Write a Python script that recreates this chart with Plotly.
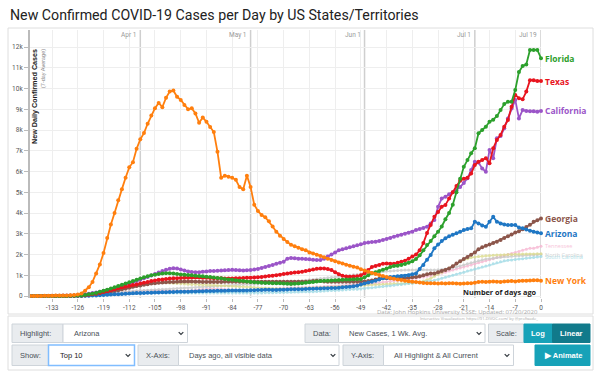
import plotly.graph_objects as go

# ---------------- data (7-day avg new cases, day -139 .. 0) ----------------
days = list(range(-139, 1))

new_york = [0, 0, 0, 5, 10, 10, 15, 20, 25, 30,
            30, 40, 50, 70, 120, 250, 420, 680, 1080, 1520,
            2070, 2800, 3450, 4000, 4620, 5150, 5700, 6200, 6450, 7100,
            7550, 7850, 8300, 8700, 9050, 9300, 9100, 9550, 9850, 9900,
            9600, 9450, 9200, 9000, 9050, 8800, 8350, 8600, 8400, 8150,
            7900, 6950, 5700, 5800, 5750, 5700, 5600, 5250, 5150, 5800,
            5250, 4400, 4100, 3900, 3800, 3600, 3350, 3100, 2900, 2750,
            2600, 2470, 2400, 2330, 2250, 2200, 2100, 2050, 1990, 1930,
            1870, 1800, 1730, 1680, 1620, 1570, 1510, 1460, 1410, 1370,
            1290, 1230, 1170, 1110, 1060, 1010, 960, 910, 870, 830,
            800, 770, 740, 710, 690, 670, 650, 630, 620, 610,
            610, 600, 610, 600, 620, 610, 600, 590, 600, 610,
            620, 640, 680, 690, 670, 690, 700, 690, 680, 700,
            710, 720, 700, 720, 730, 740, 750, 760, 760, 740]

florida = [0, 0, 0, 0, 0, 0, 0, 0, 0, 0,
           5, 10, 15, 20, 30, 50, 80, 110, 150, 200,
           250, 300, 360, 420, 480, 540, 600, 660, 720, 780,
           840, 900, 950, 1000, 1030, 1060, 1080, 1100, 1100, 1080,
           1060, 1040, 1030, 1010, 1000, 980, 960, 950, 930, 910,
           890, 870, 850, 820, 800, 780, 760, 740, 720, 700,
           680, 660, 650, 640, 630, 630, 620, 620, 610, 600,
           590, 580, 590, 600, 620, 640, 660, 680, 700, 720,
           730, 740, 750, 760, 770, 780, 790, 800, 810, 820,
           820, 900, 1000, 1100, 1150, 1200, 1260, 1320, 1400, 1440,
           1460, 1490, 1540, 1600, 1680, 1780, 1960, 2200, 2460, 2650,
           2880, 3100, 3350, 3700, 4000, 4400, 5000, 5650, 6230, 6550,
           6880, 7120, 7840, 8000, 8160, 8400, 8500, 8670, 8960, 9250,
           9360, 9360, 9930, 10800, 11080, 11160, 11860, 11860, 11860, 11460]

texas = [0, 0, 0, 0, 0, 0, 0, 0, 0, 0,
         5, 10, 15, 20, 30, 40, 60, 80, 110, 150,
         190, 230, 280, 330, 380, 420, 460, 500, 530, 560,
         600, 640, 680, 720, 750, 780, 800, 820, 840, 850,
         860, 870, 880, 880, 890, 890, 890, 880, 880, 870,
         860, 850, 850, 840, 840, 840, 850, 860, 870, 880,
         880, 890, 900, 920, 940, 960, 980, 1000, 1030, 1060,
         1090, 1110, 1130, 1150, 1170, 1200, 1240, 1280, 1310, 1330,
         1330, 1300, 1250, 1150, 1050, 980, 940, 930, 940, 950,
         1000, 1100, 1250, 1400, 1450, 1500, 1560, 1570, 1550, 1560,
         1600, 1650, 1700, 1800, 1900, 2000, 2200, 2550, 3040, 3420,
         3820, 4050, 4300, 4390, 4700, 5000, 5300, 5550, 5650, 5700,
         5900, 6310, 6470, 6550, 6640, 6400, 7120, 7520, 7760, 8160,
         8480, 9120, 9690, 9530, 9480, 9850, 10400, 10400, 10360, 10360]

california = [0, 0, 0, 0, 0, 5, 10, 10, 15, 20,
              25, 30, 40, 50, 70, 90, 110, 140, 170, 200,
              240, 280, 330, 380, 430, 480, 540, 600, 660, 720,
              780, 850, 920, 990, 1060, 1130, 1200, 1260, 1310, 1340,
              1320, 1280, 1230, 1180, 1160, 1150, 1150, 1170, 1180, 1200,
              1210, 1220, 1230, 1240, 1250, 1260, 1250, 1240, 1230, 1240,
              1250, 1280, 1300, 1350, 1400, 1450, 1500, 1550, 1600, 1650,
              1800, 1830, 1820, 1800, 1790, 1780, 1770, 1750, 1730, 1730,
              1800, 1900, 2000, 2100, 2200, 2250, 2300, 2350, 2400, 2450,
              2500, 2550, 2580, 2600, 2620, 2650, 2700, 2750, 2800, 2860,
              2900, 2950, 3000, 3050, 3100, 3180, 3230, 3280, 3340, 3500,
              3660, 4300, 4700, 4780, 4900, 5000, 5100, 5250, 5450, 5670,
              6070, 6470, 6430, 6150, 5990, 7040, 6640, 7600, 7710, 8080,
              8560, 9040, 9450, 8560, 8960, 8920, 8900, 8900, 8880, 8920]

georgia = [0, 0, 0, 0, 0, 0, 0, 0, 0, 0,
           0, 5, 10, 15, 20, 30, 40, 60, 80, 100,
           130, 160, 200, 240, 280, 320, 360, 400, 440, 480,
           510, 540, 570, 600, 620, 640, 650, 660, 670, 680,
           690, 700, 700, 700, 700, 690, 690, 680, 680, 680,
           680, 680, 680, 690, 690, 690, 690, 690, 690, 690,
           690, 690, 690, 690, 690, 690, 690, 690, 690, 690,
           690, 690, 690, 690, 690, 690, 700, 720, 740, 720,
           700, 690, 690, 690, 690, 690, 690, 690, 690, 690,
           690, 700, 720, 750, 790, 830, 850, 850, 850, 860,
           860, 860, 870, 880, 900, 920, 950, 1000, 1050, 1090,
           1090, 1150, 1200, 1250, 1330, 1430, 1570, 1680, 1780, 1880,
           1990, 2100, 2250, 2350, 2420, 2480, 2560, 2620, 2700, 2800,
           2880, 2960, 3060, 3120, 3220, 3330, 3430, 3580, 3650, 3740]

arizona = [0, 0, 0, 0, 0, 0, 0, 0, 0, 0,
           0, 0, 0, 0, 5, 10, 15, 20, 30, 40,
           50, 60, 70, 80, 90, 100, 110, 120, 130, 140,
           150, 150, 160, 160, 170, 170, 180, 180, 190, 190,
           200, 200, 210, 210, 220, 220, 230, 230, 240, 240,
           240, 250, 250, 250, 260, 260, 260, 270, 270, 270,
           280, 280, 290, 290, 300, 300, 290, 290, 300, 300,
           310, 320, 320, 330, 330, 340, 350, 350, 360, 360,
           370, 370, 380, 390, 400, 420, 430, 450, 470, 500,
           550, 600, 650, 690, 740, 800, 850, 880, 910, 930,
           950, 960, 980, 1000, 1050, 1090, 1300, 1500, 1750, 1980,
           2300, 2480, 2650, 2780, 2880, 2950, 3020, 3100, 3180, 3230,
           3260, 3580, 3500, 3400, 3340, 3580, 3820, 3580, 3500, 3450,
           3420, 3420, 3420, 3300, 3260, 3200, 3150, 3100, 3060, 3020]

tennessee = [0, 0, 0, 0, 0, 0, 0, 0, 0, 0,
             0, 0, 0, 0, 5, 10, 20, 30, 50, 70,
             90, 110, 130, 150, 170, 190, 200, 210, 220, 230,
             240, 250, 250, 260, 260, 260, 250, 250, 250, 240,
             240, 240, 240, 250, 260, 280, 300, 320, 330, 340,
             340, 330, 320, 310, 300, 300, 300, 290, 290, 290,
             300, 300, 310, 320, 330, 340, 350, 360, 370, 380,
             390, 400, 400, 410, 410, 420, 420, 430, 440, 450,
             460, 470, 480, 490, 500, 500, 510, 520, 530, 540,
             550, 560, 580, 600, 620, 640, 660, 680, 700, 720,
             740, 760, 780, 800, 830, 860, 890, 920, 950, 980,
             1010, 1050, 1100, 1150, 1200, 1250, 1300, 1350, 1400, 1450,
             1500, 1550, 1600, 1650, 1700, 1750, 1800, 1850, 1900, 1950,
             2000, 2050, 2100, 2150, 2200, 2250, 2300, 2300, 2350, 2400]

north_carolina = [0, 0, 0, 0, 0, 0, 0, 0, 0, 0,
                  0, 0, 0, 5, 10, 20, 30, 40, 60, 80,
                  100, 120, 140, 160, 180, 200, 220, 230, 240, 250,
                  260, 270, 280, 290, 300, 310, 320, 330, 340, 350,
                  360, 370, 380, 390, 400, 410, 420, 430, 440, 450,
                  460, 470, 480, 490, 500, 510, 520, 530, 540, 550,
                  560, 570, 580, 590, 600, 610, 620, 630, 640, 650,
                  660, 680, 700, 720, 740, 760, 780, 800, 820, 840,
                  860, 880, 900, 920, 940, 960, 980, 1000, 1020, 1040,
                  1060, 1080, 1100, 1120, 1140, 1160, 1180, 1200, 1210, 1220,
                  1230, 1240, 1250, 1250, 1250, 1250, 1260, 1260, 1250, 1250,
                  1250, 1260, 1280, 1300, 1330, 1360, 1400, 1450, 1500, 1550,
                  1600, 1650, 1700, 1750, 1780, 1800, 1820, 1850, 1870, 1890,
                  1900, 1910, 1930, 1940, 1950, 1960, 1970, 1980, 1990, 2000]

louisiana = [0, 0, 0, 0, 0, 0, 0, 0, 0, 0,
             0, 0, 5, 10, 20, 30, 50, 70, 100, 130,
             170, 210, 250, 290, 330, 370, 410, 450, 490, 530,
             560, 590, 610, 630, 640, 650, 650, 640, 630, 610,
             600, 590, 580, 570, 560, 550, 540, 530, 530, 520,
             520, 510, 500, 490, 480, 470, 460, 450, 440, 430,
             420, 410, 400, 390, 380, 370, 360, 360, 350, 350,
             350, 350, 360, 360, 370, 380, 390, 400, 400, 410,
             410, 420, 430, 440, 450, 460, 470, 480, 490, 500,
             510, 520, 530, 540, 550, 560, 570, 580, 590, 600,
             600, 600, 610, 620, 630, 650, 680, 720, 780, 850,
             950, 1050, 1150, 1250, 1350, 1450, 1550, 1650, 1750, 1800,
             1850, 1880, 1900, 1920, 1940, 1950, 1960, 1970, 1980, 1990,
             2000, 2000, 2010, 2010, 2020, 2020, 2030, 2030, 2040, 2040]

south_carolina = [0, 0, 0, 0, 0, 0, 0, 0, 0, 0,
                  0, 0, 0, 0, 5, 10, 15, 20, 30, 40,
                  50, 60, 70, 80, 90, 100, 110, 120, 130, 140,
                  150, 150, 160, 160, 160, 160, 160, 150, 150, 150,
                  150, 150, 150, 150, 150, 150, 150, 150, 150, 150,
                  150, 150, 150, 150, 150, 150, 150, 150, 150, 150,
                  150, 150, 150, 150, 160, 160, 160, 170, 170, 170,
                  180, 180, 190, 190, 200, 200, 210, 210, 220, 230,
                  240, 250, 260, 270, 280, 290, 300, 310, 320, 330,
                  340, 360, 380, 400, 420, 440, 460, 480, 500, 520,
                  540, 560, 580, 600, 620, 640, 660, 680, 700, 720,
                  760, 800, 850, 900, 950, 1000, 1050, 1100, 1150, 1200,
                  1250, 1300, 1350, 1400, 1450, 1500, 1550, 1600, 1650, 1700,
                  1720, 1740, 1760, 1780, 1800, 1820, 1840, 1860, 1880, 1900]

series_names = ["Florida", "Texas", "California", "Georgia", "Arizona", "New York",
                "Tennessee", "North Carolina", "Louisiana", "South Carolina"]
series_values = [florida, texas, california, georgia, arizona, new_york,
                 tennessee, north_carolina, louisiana, south_carolina]
series_colors = ["#2ca02c", "#e8141e", "#9b55c8", "#8c564b", "#1f77c4", "#ff7f0e",
                 "#f7b6d2", "#c7c7c7", "#dbdb8d", "#9edae5"]
faint = ["Tennessee", "North Carolina", "Louisiana", "South Carolina"]
labelled = ["Florida", "Texas", "California", "Georgia", "Arizona", "New York",
            "Tennessee", "North Carolina", "South Carolina"]

x_ticks = list(range(-133, 1, 7))
y_ticks = list(range(0, 12001, 1000))
date_lines = {"Apr 1": -109, "May 1": -79, "Jun 1": -48, "Jul 1": -18, "Jul 19": 0}

title_text = "New Confirmed COVID-19 Cases per Day by US States/Territories"

# ---------------- geometry helpers (pixel -> paper) ----------------
W, H = 600, 372
L, R, T, B = 30, 541, 30, 298
PX_PER_K = 20.75
ZERO_Y = 296


def px(x):
    return (x - L) / (R - L)


def py(y):
    return (B - y) / (B - T)


ymin = -(B - ZERO_Y) / PX_PER_K * 1000
ymax = (ZERO_Y - T) / PX_PER_K * 1000

fig = go.Figure()

draw_order = [6, 7, 8, 9, 3, 4, 2, 1, 0, 5]
for i in draw_order:
    name = series_names[i]
    op = 0.8 if name in faint else 1.0
    lw = 1.2 if name in faint else 1.8
    ms = 3 if name in faint else 4
    fig.add_trace(go.Scatter(
        x=days, y=series_values[i], mode="lines+markers", name=name,
        line=dict(color=series_colors[i], width=lw),
        marker=dict(color=series_colors[i], size=ms),
        opacity=op, hoverinfo="skip", cliponaxis=False))

shapes = []
annotations = []

# date lines
for lab, d in date_lines.items():
    shapes.append(dict(type="line", xref="x", yref="paper", x0=d, x1=d, y0=0, y1=1,
                       line=dict(color="#cfcfcf", width=1.5), layer="below"))
    annotations.append(dict(x=d, y=py(35), xref="x", yref="paper", text=lab,
                            showarrow=False, xanchor="right", yanchor="middle", xshift=-2,
                            font=dict(size=6.5, color="#999", family="Roboto")))

# series end labels
for i, name in enumerate(series_names):
    if name not in labelled:
        continue
    is_faint = name in faint
    annotations.append(dict(
        x=0, y=series_values[i][-1], xref="x", yref="y",
        text=name if is_faint else "<b>%s</b>" % name,
        showarrow=False, xanchor="left", yanchor="middle", xshift=2,
        opacity=0.8 if is_faint else 1.0,
        font=dict(size=5.5 if is_faint else 8.5, color=series_colors[i], family="Open Sans")))

# axis titles / notes
annotations.append(dict(x=px(34.5), y=py(47), xref="paper", yref="paper",
                        text="<b>New Daily Confirmed Cases</b>", textangle=-90,
                        showarrow=False, xanchor="center", yanchor="top",
                        font=dict(size=7.2, color="#222", family="Liberation Sans")))
annotations.append(dict(x=px(42.5), y=py(47), xref="paper", yref="paper",
                        text="(7-day Average)", textangle=-90,
                        showarrow=False, xanchor="center", yanchor="top",
                        font=dict(size=5.5, color="#888", family="Liberation Sans")))
annotations.append(dict(x=px(538), y=py(292), xref="paper", yref="paper",
                        text="<b>Number of days ago</b>", showarrow=False,
                        xanchor="right", yanchor="middle",
                        font=dict(size=7.3, color="#222", family="Open Sans")))
annotations.append(dict(x=px(540), y=py(312.3), xref="paper", yref="paper",
                        text="Data: John Hopkins University CSSE; Updated: 07/20/2020",
                        showarrow=False, xanchor="right", yanchor="middle",
                        font=dict(size=6, color="#aaa", family="Open Sans")))
annotations.append(dict(x=px(540), y=py(318), xref="paper", yref="paper",
                        text="Interactive Visualization: https://91-DIVOC.com/ by @profwade_",
                        showarrow=False, xanchor="right", yanchor="middle",
                        font=dict(size=4, color="#aaa", family="Open Sans")))

# title
annotations.append(dict(x=px(8), y=py(15), xref="paper", yref="paper", text=title_text,
                        showarrow=False, xanchor="left", yanchor="middle",
                        font=dict(size=14.2, color="#222", family="Roboto")))

# container borders
shapes.append(dict(type="rect", xref="paper", yref="paper", x0=px(8), x1=px(593),
                   y0=py(314), y1=py(28), line=dict(color="#dedede", width=1),
                   fillcolor="rgba(0,0,0,0)", layer="below"))
shapes.append(dict(type="rect", xref="paper", yref="paper", x0=px(8), x1=px(593),
                   y0=py(370), y1=py(316), line=dict(color="#dedede", width=1),
                   fillcolor="rgba(0,0,0,0)", layer="below"))


# ---------------- controls ----------------
def rect(x0, y0, x1, y1, fill, line="#ced4da", lw=1):
    shapes.append(dict(type="rect", xref="paper", yref="paper",
                       x0=px(x0), x1=px(x1), y0=py(y1), y1=py(y0),
                       fillcolor=fill, line=dict(color=line, width=lw), layer="above"))


def label(x, y, s, size=7.5, color="#495057", anchor="left", bold=False):
    annotations.append(dict(x=px(x), y=py(y), xref="paper", yref="paper",
                            text="<b>%s</b>" % s if bold else s, showarrow=False,
                            xanchor=anchor, yanchor="middle",
                            font=dict(size=size, color=color, family="Liberation Sans")))


def chevron(cx, cy):
    d = "M %f %f L %f %f L %f %f" % (px(cx - 2.3), py(cy - 1.2), px(cx), py(cy + 1.2),
                                     px(cx + 2.3), py(cy - 1.2))
    shapes.append(dict(type="path", xref="paper", yref="paper", path=d,
                       line=dict(color="#343a40", width=1.2), layer="above"))


r1a, r1b = 324, 342.5
r2a, r2b = 345, 365.5
rc1 = (r1a + r1b) / 2
rc2 = (r2a + r2b) / 2
GREY = "#e9ecef"

rect(12, r1a, 63, r1b, GREY)
label(18, rc1, "Highlight:")
rect(63, r1a, 187.5, r1b, "white")
label(72, rc1, "Arizona")
chevron(181, rc1)

rect(305, r1a, 338.5, r1b, GREY)
label(311, rc1, "Data:")
rect(338.5, r1a, 485, r1b, "white")
label(347, rc1, "New Cases, 1 Wk. Avg.")
chevron(479, rc1)

rect(488.5, r1a, 524, r1b, GREY)
label(494, rc1, "Scale:")
rect(524, r1a, 552.5, r1b, "#17a2b8", line="#17a2b8")
label(538.2, rc1, "Log", color="white", anchor="center", bold=True)
rect(552.5, r1a, 590, r1b, "#117a8b", line="#117a8b")
label(571.2, rc1, "Linear", color="white", anchor="center", bold=True)

rect(12, r2a, 48.5, r2b, GREY)
label(18, rc2, "Show:")
rect(48.5, r2a, 134.5, r2b, "white", line="#80bdff", lw=1.5)
label(58, rc2, "Top 10", color="#222")
chevron(128, rc2)

rect(138, r2a, 178.5, r2b, GREY)
label(144, rc2, "X-Axis:")
rect(178.5, r2a, 339, r2b, "white")
label(187, rc2, "Days ago, all visible data")
chevron(333, rc2)

rect(343, r2a, 383.5, r2b, GREY)
label(349, rc2, "Y-Axis:")
rect(383.5, r2a, 513.5, r2b, "white")
label(392, rc2, "All Highlight & All Current")
chevron(507, rc2)

rect(535, r2a, 590, r2b, "#17a2b8", line="#17a2b8")
label(562.5, rc2, "▶ Animate", color="white", anchor="center", bold=True)

fig.update_layout(
    width=W, height=H,
    margin=dict(l=L, r=W - R, t=T, b=H - B, pad=0),
    paper_bgcolor="white", plot_bgcolor="white",
    showlegend=False, hovermode=False,
    shapes=shapes, annotations=annotations,
    xaxis=dict(range=[-139, 0], tickvals=x_ticks, ticktext=[str(v) for v in x_ticks],
               showgrid=True, gridcolor="#eeeeee", gridwidth=1, zeroline=False,
               showline=False, ticks="outside", ticklen=3, tickcolor="#bbb",
               tickfont=dict(size=6.5, color="#555", family="Roboto"), fixedrange=True),
    yaxis=dict(range=[ymin, ymax], tickvals=y_ticks,
               ticktext=["0"] + ["%dk" % (v // 1000) for v in y_ticks[1:]],
               showgrid=True, gridcolor="#eeeeee", gridwidth=1, zeroline=False,
               showline=True, linecolor="#bbb", linewidth=2,
               ticks="outside", ticklen=4, tickcolor="#bbb",
               tickfont=dict(size=6.5, color="#555", family="Roboto"), fixedrange=True),
)

fig.write_html("out.html", config=dict(displayModeBar=False),
               post_script="document.body.style.margin='0';document.body.style.overflow='hidden';")
